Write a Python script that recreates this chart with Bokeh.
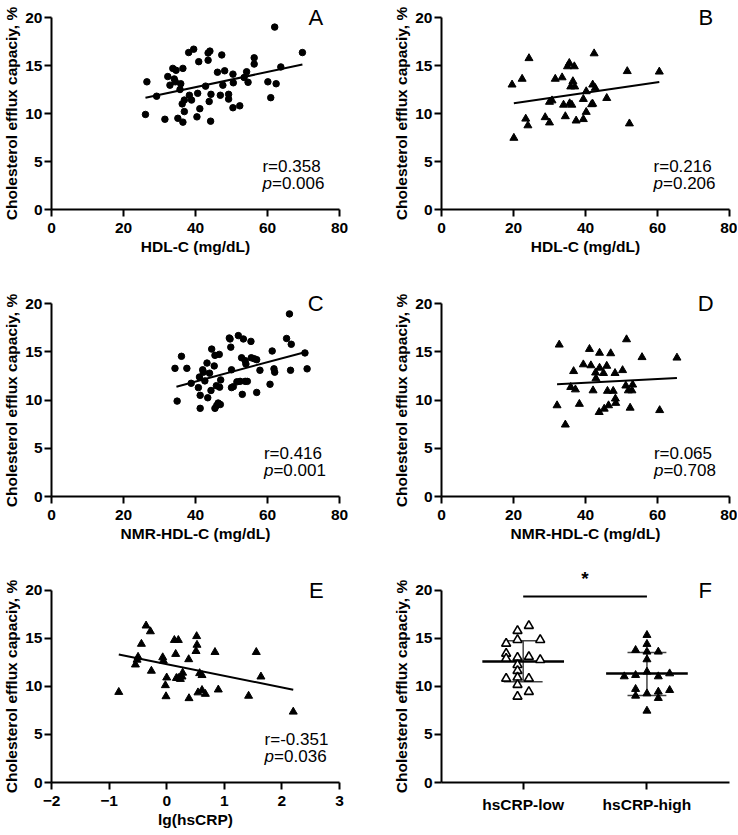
import math
from bokeh.plotting import figure
from bokeh.layouts import column, row
from bokeh.models import Range1d, SingleIntervalTicker, FixedTicker, Label
from bokeh.core.properties import value
from bokeh.embed import file_html
from bokeh.resources import INLINE

FONT = "Liberation Sans"
YLABEL = "Cholesterol efflux capaciy, %"

# ---------------- data ----------------
# A: HDL-C vs CEC (circles)
a_x = [26.1, 26.5, 29.2, 31.5, 32.3, 32.9, 33.7, 34.1, 34.6, 34.4, 35.1, 35.9, 35.7, 36.3,
       36.5, 36.5, 36.9, 36.9, 38.1, 38.3, 38.9, 39.5, 40.6, 40.9, 40.4, 41.2, 42.8, 43.5,
       43.5, 44.0, 43.8, 44.3, 44.2, 46.1, 46.9, 47.3, 47.6, 48.1, 49.2, 49.2, 50.4, 50.5,
       50.4, 52.3, 53.5, 54.2, 54.6, 56.3, 56.3, 60.1, 60.9, 62.0, 62.4, 63.7, 69.7]
a_y = [9.9, 13.3, 11.8, 9.4, 13.85, 12.95, 14.7, 13.6, 14.5, 13.3, 9.5, 13.1, 12.5, 11.0,
       14.7, 9.1, 10.2, 11.4, 16.35, 11.9, 11.4, 16.7, 12.1, 15.4, 9.65, 10.5, 12.85, 15.55,
       16.3, 16.5, 11.25, 12.0, 9.2, 14.3, 11.9, 16.1, 12.95, 14.45, 12.0, 11.5, 14.1, 13.2,
       10.6, 10.8, 13.75, 14.35, 13.25, 15.8, 15.15, 13.3, 11.65, 19.0, 13.1, 14.85, 16.35]
a_fit_x = [26.1, 69.7]
a_fit_y = [11.63, 15.1]

# B: HDL-C vs CEC (triangles)
b_x = [19.6, 20.1, 22.4, 23.4, 24.0, 24.3, 28.8, 30.0, 30.0, 30.7, 31.6, 33.5, 33.9, 34.4,
       35.0, 35.5, 35.6, 35.9, 36.2, 36.5, 36.9, 37.0, 37.4, 39.4, 39.4, 40.2, 40.2, 41.7,
       42.0, 42.0, 42.4, 42.7, 45.9, 51.6, 52.2, 60.5]
b_y = [13.0, 7.45, 13.6, 9.45, 8.75, 15.75, 9.6, 9.05, 11.2, 11.35, 13.6, 13.75, 10.9, 9.7,
       14.9, 15.25, 11.05, 12.8, 10.9, 13.35, 14.9, 12.8, 9.25, 11.5, 9.4, 10.15, 12.3, 10.95,
       11.0, 13.0, 16.25, 12.65, 11.6, 14.4, 8.95, 14.35]
b_fit_x = [20.1, 60.5]
b_fit_y = [11.07, 13.29]

# C: NMR-HDL-C vs CEC (circles)
c_x = [34.3, 34.9, 36.1, 37.6, 38.8, 40.8, 41.1, 41.3, 41.3, 42.0, 42.2, 42.6, 43.2, 43.4,
       43.9, 44.3, 44.5, 45.2, 45.4, 45.4, 45.8, 45.9, 46.3, 46.6, 46.7, 47.0, 46.9, 49.4,
       49.6, 49.8, 50.0, 50.0, 50.5, 51.5, 51.9, 52.4, 52.8, 53.0, 53.3, 53.8, 54.0, 53.8,
       54.4, 55.4, 55.5, 56.3, 57.0, 57.0, 57.9, 60.7, 61.3, 61.8, 62.0, 65.3, 66.1, 66.4,
       66.6, 70.4, 71.0]
c_y = [13.3, 9.9, 14.55, 13.3, 11.75, 11.3, 12.4, 10.5, 9.15, 13.15, 12.9, 12.0, 13.85, 10.25,
       12.8, 11.0, 15.3, 13.55, 14.65, 9.15, 11.5, 9.45, 9.7, 14.75, 11.35, 12.1, 9.55, 16.45,
       16.35, 15.5, 13.15, 11.3, 11.4, 11.9, 16.7, 11.95, 14.4, 10.6, 16.35, 14.1, 13.75, 11.95,
       11.95, 16.1, 14.4, 14.3, 14.2, 10.8, 13.1, 11.65, 15.1, 13.25, 12.9, 16.4, 18.95, 13.1,
       15.8, 14.9, 13.25]
c_fit_x = [34.7, 70.1]
c_fit_y = [11.4, 14.95]

# D: NMR-HDL-C vs CEC (triangles)
d_x = [32.1, 32.7, 34.4, 35.9, 36.7, 37.2, 38.3, 39.4, 41.1, 41.5, 42.1, 42.8, 42.9, 43.9,
       43.8, 43.9, 45.0, 45.2, 45.9, 46.1, 46.4, 47.0, 47.7, 48.2, 48.3, 48.4, 50.3, 51.2,
       51.4, 51.9, 52.4, 52.9, 53.1, 55.7, 60.6, 65.4]
d_y = [9.45, 15.75, 7.45, 11.35, 13.0, 11.1, 9.6, 13.7, 15.3, 13.6, 11.0, 12.85, 12.25, 14.9,
       8.75, 13.35, 12.8, 9.1, 13.55, 10.95, 9.45, 14.85, 10.95, 12.8, 10.15, 9.7, 13.1, 11.5,
       16.3, 11.0, 9.2, 11.0, 11.6, 14.45, 8.95, 14.4]
d_fit_x = [32.1, 65.4]
d_fit_y = [11.65, 12.3]

# E: lg(hsCRP) vs CEC (triangles)
e_x = [-0.832, -0.543, -0.514, -0.497, -0.439, -0.358, -0.283, -0.266, -0.069, -0.058,
       -0.023, -0.012, 0.0, 0.133, 0.156, 0.168, 0.202, 0.202, 0.237, 0.277, 0.266, 0.382,
       0.387, 0.509, 0.520, 0.526, 0.543, 0.572, 0.613, 0.613, 0.671, 0.838, 0.896, 1.422,
       1.555, 1.636, 2.197]
e_y = [9.4, 12.25, 12.75, 13.05, 14.4, 16.3, 15.7, 11.6, 13.0, 12.65, 10.1, 8.95, 10.9, 14.8,
       13.35, 10.85, 14.8, 10.85, 10.75, 11.4, 11.0, 12.8, 8.75, 13.65, 15.2, 14.3, 9.35, 11.35,
       11.15, 9.6, 9.2, 13.55, 9.65, 9.0, 13.55, 11.0, 7.35]
e_fit_x = [-0.832, 2.197]
e_fit_y = [13.3, 9.65]

# F: hsCRP groups
f_groups = ["hsCRP-low", "hsCRP-high"]
f_low = [16.29, 15.77, 14.83, 14.83, 14.45, 13.41, 13.07, 12.99, 12.89, 12.75, 12.23,
         11.61, 10.92, 10.81, 10.81, 10.16, 9.43, 8.94]
f_low_slot = [0.5, -0.5, -0.5, 1.5, -1.5, -1.5, 0.5, -0.5, -1.5, 1.5, -0.5,
              -0.5, -0.5, -1.5, 0.5, -0.5, 0.5, -0.5]
f_high = [15.32, 14.39, 13.76, 13.59, 13.59, 12.79, 11.51, 11.02, 11.16, 11.02, 11.33,
          9.71, 9.01, 9.25, 9.43, 8.77, 9.6, 7.45]
f_high_slot = [0, 0, -1, 0, 1, 0, 0, -2, -1, 1, 2, -1, -1, 0, 1, 1, 2, 0]
f_median = [12.58, 11.33]
f_lower = [10.47, 9.04]
f_upper = [14.73, 13.51]
f_sig_y = 19.33
f_star_y = 21.7

stats_text = {
    "A": ("r=0.358", "=0.006"),
    "B": ("r=0.216", "=0.206"),
    "C": ("r=0.416", "=0.001"),
    "D": ("r=0.065", "=0.708"),
    "E": ("r=-0.351", "=0.036"),
}

# ---------------- layout geometry (pixels) ----------------
LW1, LW2 = 22, 22          # y-label strips
W1, W2 = 368, 325          # panel figures
BL, BR1, BR2 = 28, 51, 8
# rows: (frame height, px per y unit, bottom border)
ROWS = [(209, 9.60, 52), (235, 9.635, 52), (234, 9.62, 52)]
LABEL_CY = [113, 400, 686]     # y-label centre in page pixels
ROW_TOP = [0, 261, 548]


def label_strip(w, h, cx, cy):
    p = figure(width=w, height=h, x_range=Range1d(0, w), y_range=Range1d(h, 0),
               output_backend="svg", toolbar_location=None,
               x_axis_location=None, y_axis_location=None, min_border=0)
    p.outline_line_color = None
    p.grid.visible = False
    p.text(x=[cx], y=[cy], text=[YLABEL], angle=math.pi / 2, text_align="center",
           text_baseline="middle", text_font=value(FONT), text_font_style="bold",
           text_font_size=value("15.5px"), text_color="black")
    return p


def make_fig(w, rw, br, xr, xlabel):
    fh, ppu, bb = ROWS[rw]
    p = figure(width=w, height=fh + bb, x_range=xr, y_range=Range1d(0, fh / ppu),
               output_backend="svg", toolbar_location=None,
               min_border_left=BL, min_border_right=br,
               min_border_top=0, min_border_bottom=bb)
    p.outline_line_color = None
    p.xgrid.visible = False
    p.ygrid.visible = False
    p.background_fill_color = "white"
    p.border_fill_color = "white"
    for ax in (p.xaxis[0], p.yaxis[0]):
        ax.axis_line_width = 2
        ax.axis_line_color = "black"
        ax.major_tick_line_width = 2
        ax.major_tick_line_color = "black"
        ax.major_tick_out = 7
        ax.major_tick_in = 0
        ax.minor_tick_line_color = None
        ax.major_label_text_font = FONT
        ax.major_label_text_font_style = "bold"
        ax.major_label_text_font_size = "15.5px"
        ax.major_label_text_color = "black"
        ax.axis_label_text_font = FONT
        ax.axis_label_text_font_style = "bold"
        ax.axis_label_text_font_size = "15.5px"
        ax.axis_label_text_color = "black"
    p.yaxis.ticker = SingleIntervalTicker(interval=5)
    p.yaxis.bounds = (0, 20)
    p.yaxis.major_label_standoff = 2
    if xlabel:
        p.xaxis.axis_label = xlabel
    p.xaxis.major_label_standoff = 6
    p.xaxis.axis_label_standoff = 2
    return p


def add_letter(p, x, letter):
    p.add_layout(Label(x=x, y=20, text=letter, text_font=FONT, text_font_size="22px",
                       text_align="center", text_baseline="middle", text_color="black"))


def add_stats(p, x, key):
    r_txt, p_txt = stats_text[key]
    p.add_layout(Label(x=x, y=4.45, text=r_txt, text_font=FONT, text_font_size="17px",
                       text_baseline="alphabetic", text_align="left", text_color="black"))
    p.add_layout(Label(x=x, y=2.75, text="p", text_font=FONT, text_font_size="17px",
                       text_font_style="italic",
                       text_baseline="alphabetic", text_align="left", text_color="black"))
    p.add_layout(Label(x=x, y=2.75, x_offset=9.5, text=p_txt, text_font=FONT,
                       text_font_size="17px",
                       text_baseline="alphabetic", text_align="left", text_color="black"))


def scatter_panel(w, rw, br, xs, ys, fx, fy, marker, xlabel, letter, xr, tick_int, sx, lx):
    p = make_fig(w, rw, br, xr, xlabel)
    p.xaxis.ticker = SingleIntervalTicker(interval=tick_int)
    p.line(fx, fy, line_color="black", line_width=2)
    if marker == "circle":
        p.scatter(xs, ys, marker="circle", size=6.5, fill_color="black", line_color="black")
    else:
        p.scatter(xs, ys, marker="triangle", size=8, fill_color="black", line_color="black")
    add_stats(p, sx, letter)
    add_letter(p, lx, letter)
    return p


pA = scatter_panel(W1, 0, BR1, a_x, a_y, a_fit_x, a_fit_y, "circle", "HDL-C (mg/dL)", "A",
                   Range1d(0, 80), 20, 58.6, 73.4)
pB = scatter_panel(W2, 0, BR2, b_x, b_y, b_fit_x, b_fit_y, "triangle", "HDL-C (mg/dL)", "B",
                   Range1d(0, 80), 20, 58.9, 73.4)
pC = scatter_panel(W1, 1, BR1, c_x, c_y, c_fit_x, c_fit_y, "circle", "NMR-HDL-C (mg/dL)", "C",
                   Range1d(0, 80), 20, 59.0, 73.4)
pD = scatter_panel(W2, 1, BR2, d_x, d_y, d_fit_x, d_fit_y, "triangle", "NMR-HDL-C (mg/dL)", "D",
                   Range1d(0, 80), 20, 59.0, 73.4)
pE = scatter_panel(W1, 2, BR1, e_x, e_y, e_fit_x, e_fit_y, "triangle", "lg(hsCRP)", "E",
                   Range1d(-2, 3), 1, 1.70, 2.6)

# F panel
pF = make_fig(W2, 2, BR2, Range1d(0.34, 2.667), None)
pos = [1, 2]
pF.xaxis.ticker = FixedTicker(ticks=pos)
pF.xaxis.major_label_overrides = {1: f_groups[0], 2: f_groups[1]}
step = 0.0917
half_med = 0.33
half_cap = 0.157
pF.segment(x0=pos, y0=f_lower, x1=pos, y1=f_upper, line_color="#444444", line_width=1.5)
pF.segment(x0=[q - half_cap for q in pos], y0=f_lower, x1=[q + half_cap for q in pos], y1=f_lower,
           line_color="#444444", line_width=1.5)
pF.segment(x0=[q - half_cap for q in pos], y0=f_upper, x1=[q + half_cap for q in pos], y1=f_upper,
           line_color="#444444", line_width=1.5)
pF.segment(x0=[q - half_med for q in pos], y0=f_median, x1=[q + half_med for q in pos], y1=f_median,
           line_color="black", line_width=2.5)
pF.scatter([1 + s * step for s in f_low_slot], f_low, marker="triangle", size=9,
           fill_color="white", line_color="black", line_width=1.6)
pF.scatter([2 + s * step for s in f_high_slot], f_high, marker="triangle", size=8,
           fill_color="black", line_color="black")
pF.line(pos, [f_sig_y, f_sig_y], line_color="black", line_width=2)
pF.text(x=[1.5], y=[f_star_y], text=["*"], text_font=value(FONT), text_font_size=value("19px"),
        text_font_style="bold", text_align="center", text_baseline="middle", y_offset=5,
        text_color="black")
add_letter(pF, 2.47, "F")

heights = [ROWS[i][0] + ROWS[i][2] for i in range(3)]
strips1 = [label_strip(LW1, heights[i], 10.5, LABEL_CY[i] - ROW_TOP[i]) for i in range(3)]
strips2 = [label_strip(LW2, heights[i], 11, LABEL_CY[i] - ROW_TOP[i]) for i in range(3)]

layout = row(column(*strips1), column(pA, pC, pE), column(*strips2), column(pB, pD, pF))

open("out.html", "w").write(file_html(layout, INLINE))
